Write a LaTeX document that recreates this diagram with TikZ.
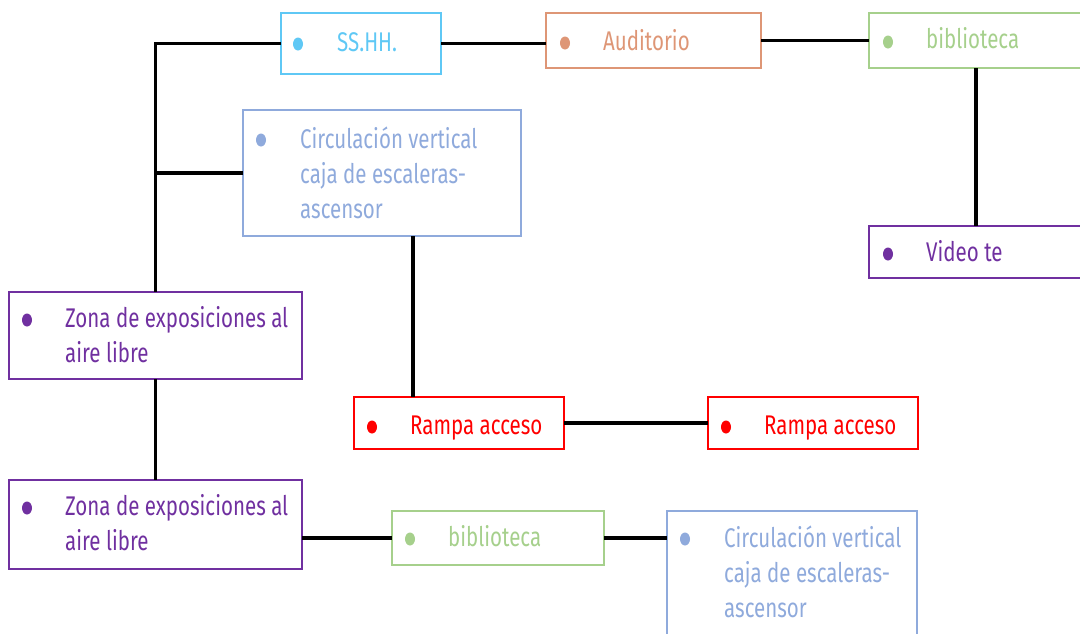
\documentclass[tikz,border=0pt]{standalone}
\usepackage{fontspec}
\setmainfont[FakeStretch=0.76]{Fira Sans}
\definecolor{cblue}{RGB}{95,200,245}
\definecolor{corange}{RGB}{222,150,118}
\definecolor{cgreen}{RGB}{166,208,140}
\definecolor{csteel}{RGB}{143,170,220}
\definecolor{cpurple}{RGB}{112,48,160}
\definecolor{cred}{RGB}{255,0,0}
\tikzset{
  box/.style={draw=#1, line width=1.6pt, inner sep=0pt, outer sep=0pt},
  lbl/.style={text=#1, anchor=base west, inner sep=0pt, font=\fontsize{27}{32}\selectfont},
  conn/.style={line width=3.8pt, draw=black},
}
\newcommand\mkbox[6]{\node[box=#6, minimum width={#4-#2}, minimum height={#5-#3}] (#1) at ({(#2+#4)/2},{-(#3+#5)/2}) {};}
\newcommand\mkdot[3]{\fill[#3] (#1,-#2) ellipse (5 and 6.5);}
\begin{document}
\begin{tikzpicture}[x=1pt,y=1pt]
\useasboundingbox (0,0) rectangle (1080,-633);
% boxes
\mkbox{ss}{281}{13}{441}{74}{cblue}
\mkbox{aud}{546}{13}{761}{68}{corange}
\mkbox{bibA}{869}{13}{1083}{68}{cgreen}
\mkbox{circA}{243}{110}{521}{236}{csteel}
\mkbox{video}{869}{226}{1083}{278}{cpurple}
\mkbox{zonaA}{9}{292}{302}{379}{cpurple}
\mkbox{rampA}{354}{397}{564}{449}{cred}
\mkbox{rampB}{708}{397}{918}{449}{cred}
\mkbox{zonaB}{9}{480}{302}{569}{cpurple}
\mkbox{bibB}{392}{511}{604}{565}{cgreen}
\mkbox{circB}{667}{511}{917}{660}{csteel}
% dots
\mkdot{298}{44}{cblue}
\mkdot{565}{43}{corange}
\mkdot{888}{42}{cgreen}
\mkdot{261}{140}{csteel}
\mkdot{888}{254}{cpurple}
\mkdot{27}{320}{cpurple}
\mkdot{372}{427}{cred}
\mkdot{726}{427}{cred}
\mkdot{27}{508}{cpurple}
\mkdot{410}{539}{cgreen}
\mkdot{685}{539}{csteel}
% texts
\node[lbl=cblue] (tss) at (337,-51) {SS.HH.};
\node[lbl=corange] (taud) at (603,-50) {Auditorio};
\node[lbl=cgreen] (tbibA) at (926,-48) {biblioteca};
\node[lbl=csteel] (tcA1) at (300,-148) {Circulación vertical};
\node[lbl=csteel] (tcA2) at (300,-183) {caja de escaleras-};
\node[lbl=csteel] (tcA3) at (300,-218) {ascensor};
\node[lbl=cpurple] (tvid) at (926,-261) {Video te};
\node[lbl=cpurple] (tzA1) at (65,-327) {Zona de exposiciones al};
\node[lbl=cpurple] (tzA2) at (65,-362) {aire libre};
\node[lbl=cred] (trA) at (410,-434) {Rampa acceso};
\node[lbl=cred] (trB) at (764,-434) {Rampa acceso};
\node[lbl=cpurple] (tzB1) at (65,-515) {Zona de exposiciones al};
\node[lbl=cpurple] (tzB2) at (65,-550) {aire libre};
\node[lbl=cgreen] (tbibB) at (448,-546) {biblioteca};
\node[lbl=csteel] (tcB1) at (724,-547) {Circulación vertical};
\node[lbl=csteel] (tcB2) at (724,-582) {caja de escaleras-};
\node[lbl=csteel] (tcB3) at (724,-617) {ascensor};
% connectors
\coordinate (cv) at (413,0);
\draw[conn] (ss.west) -| (zonaA.north);
\draw[conn] (circA.west) -- (circA.west -| zonaA.north);
\draw[conn] (ss.east) -- (ss.east -| aud.west);
\draw[conn] (aud.east) -- (bibA.west);
\draw[conn] (bibA.south) -- (video.north);
\draw[conn] (circA.south -| cv) -- (rampA.north -| cv);
\draw[conn] (rampA.east) -- (rampB.west);
\draw[conn] (zonaA.south) -- (zonaB.north);
\draw[conn] (zonaB.east |- bibB.west) -- (bibB.west);
\draw[conn] (bibB.east) -- (bibB.east -| circB.west);
\end{tikzpicture}
\end{document}
